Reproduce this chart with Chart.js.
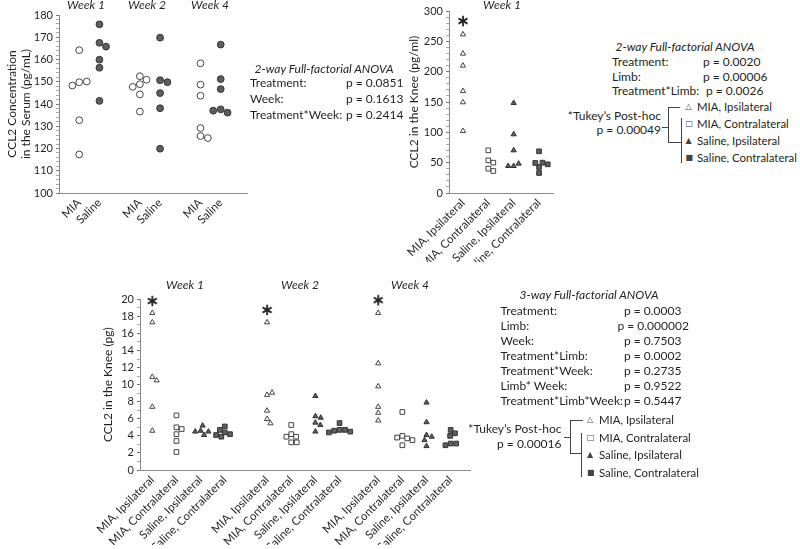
<!DOCTYPE html>
<html lang="en">
<head>
<meta charset="UTF-8" />
<title>CCL2 in serum and knee</title>
<script src="https://cdn.jsdelivr.net/npm/chart.js"></script>
<style>
  body { margin: 0; background: #fff; }
  #fig { position: relative; width: 800px; height: 549px; overflow: hidden; font-family: Lato, sans-serif; color: #231f20; }
  #fig canvas { position: absolute; }
  .t { position: absolute; white-space: nowrap; font-size: 12px; line-height: 14px; }
  .i { font-style: italic; }
  .lg { font-size: 11.4px; }
  .ln { position: absolute; background: #444; }
  .sym { font-family: 'DejaVu Sans', sans-serif; font-size: 8px; color: #444; }
</style>
</head>
<body>
<div id="fig">
  <canvas id="serum" width="260" height="262" style="left:0;top:0"></canvas>
  <canvas id="kneeW1" width="170" height="262" style="left:390px;top:0"></canvas>
  <canvas id="kneeAll" width="400" height="265" style="left:80px;top:280px"></canvas>
</div>
<script>
// ---- serum CCL2 (pg/mL), rows = week 1, 2, 4 ----
const serumWeeks = ['Week 1', 'Week 2', 'Week 4'];
const serumGroups = ['MIA', 'Saline'];
const serumMIA = [
  [149.8, 150.1, 148.3, 164.2, 132.7, 117.3],
  [152.5, 148.9, 150.9, 147.7, 144.3, 136.6],
  [158.3, 148.7, 143.7, 129.2, 125.6, 124.7]
];
const serumSaline = [
  [175.8, 167.5, 165.8, 159.9, 156.3, 141.4],
  [169.8, 150.7, 149.8, 144.9, 138.1, 119.9],
  [166.7, 151.2, 146.7, 137.6, 136.1, 137.0]
];

// ---- knee CCL2 at week 1 (pg/ml) ----
const kneeGroups = ['MIA, Ipsilateral', 'MIA, Contralateral', 'Saline, Ipsilateral', 'Saline, Contralateral'];
const kneeW1MIAIpsi = [261.5, 229.7, 209.9, 168, 149.5, 102.2];
const kneeW1MIAContra = [70.3, 53.8, 50, 40.1, 36.3];
const kneeW1SalIpsi = [148.4, 96.7, 70.3, 44.5, 48.4, 44.5];
const kneeW1SalContra = [68.7, 33, 42.9, 50, 49.5, 47.3];
const kneeW1Star = [283.5];

// ---- knee CCL2 (pg), rows = week 1, 2, 4 ----
const kneeWeeks = ['Week 1', 'Week 2', 'Week 4'];
const pgMIAIpsi = [
  [18.4, 17.3, 10.9, 10.5, 7.4, 4.6],
  [17.3, 8.8, 9.06, 6.95, 5.98, 5.47],
  [18.4, 12.5, 9.8, 7.4, 6.7, 5.8]
];
const pgMIAContra = [
  [6.4, 5.0, 4.8, 4.2, 3.4, 2.1],
  [5.27, 4.2, 3.9, 3.9, 3.24, 3.24],
  [6.8, 4.0, 3.7, 3.8, 3.5, 2.9]
];
const pgSalIpsi = [
  [4.6, 5.2, 4.1, 4.5, 4.5],
  [8.67, 6.3, 6.13, 5.55, 5.27, 4.5],
  [7.9, 5.6, 4.1, 3.9, 3.5, 2.8]
];
const pgSalContra = [
  [4.4, 5.1, 4.2, 4.7, 3.9, 4.1],
  [5.5, 4.7, 4.7, 4.6, 4.5, 4.4],
  [4.7, 4.3, 4.0, 3.1, 3.1, 2.9]
];
const pgStars = [19.8, 18.75, 19.9];

// ---- stats text ----
const serumStats = [['Treatment:', 'p = 0.0851'], ['Week:', 'p = 0.1613'], ['Treatment*Week:', 'p = 0.2414']];
const kneeW1Stats = [['Treatment:', 'p = 0.0020'], ['Limb:', 'p = 0.00006'], ['Treatment*Limb:', 'p = 0.0026']];
const kneeStats = [
  ['Treatment:', 'p = 0.0003'], ['Limb:', 'p = 0.000002'], ['Week:', 'p = 0.7503'],
  ['Treatment*Limb:', 'p = 0.0002'], ['Treatment*Week:', 'p = 0.2735'],
  ['Limb* Week:', 'p = 0.9522'], ['Treatment*Limb*Week:', 'p = 0.5447']
];
const legendSymbols = ['\u25B3', '\u25A1', '\u25B2', '\u25A0'];

const ink = '#231f20';
const axisGrey = '#8a8a8a';
Chart.defaults.font.family = 'Lato, sans-serif';
Chart.defaults.color = ink;

// beeswarm: push each point sideways just enough to clear the ones already placed
function swarm(values, cx, pxX, pxY, d) {
  const placed = [];
  values.forEach(v => {
    const y = v * pxY;
    const cands = [0];
    placed.forEach(p => {
      const dy = Math.abs(p.y - y);
      if (dy < d) {
        const dx = Math.sqrt(d * d - dy * dy);
        cands.push(p.x + dx, p.x - dx);
      }
    });
    cands.sort((a, b) => Math.abs(a) - Math.abs(b) || b - a);
    const x = cands.find(c => placed.every(p => Math.hypot(p.x - c, p.y - y) >= d - 0.01));
    placed.push({ x, y });
  });
  return values.map((v, i) => ({ x: cx + placed[i].x / pxX, y: v }));
}

// six-armed asterisk used as a point style
const star = document.createElement('canvas');
star.width = star.height = 14;
(function () {
  const c = star.getContext('2d');
  c.strokeStyle = '#222';
  c.lineWidth = 1.8;
  [90, 30, -30].forEach(a => {
    const r = a * Math.PI / 180, dx = Math.cos(r) * 5.2, dy = Math.sin(r) * 5.2;
    c.beginPath(); c.moveTo(7 - dx, 7 - dy); c.lineTo(7 + dx, 7 + dy); c.stroke();
  });
})();

const open = { bg: '#fff', line: '#444' };
const solid = { bg: '#5e5e5e', line: '#333' };

function marks(points, shape, look, r) {
  return {
    data: points, pointStyle: shape, pointRadius: r, pointHoverRadius: r, pointBorderWidth: 1,
    pointBackgroundColor: look.bg, pointBorderColor: look.line, clip: false
  };
}

function yAxis(min, max, minor, major, title, width, titlePad) {
  return {
    min, max,
    afterFit: s => { s.width = width; },
    afterBuildTicks: s => {
      const t = [];
      for (let v = min; v <= max + 1e-9; v += minor) t.push({ value: +v.toFixed(4) });
      s.ticks = t;
    },
    ticks: {
      autoSkip: false, font: { size: 11 }, padding: 3,
      callback: v => (Math.abs(v / major - Math.round(v / major)) < 1e-6 ? v : '')
    },
    grid: {
      drawOnChartArea: false, tickLength: 3,
      tickColor: c => (c.tick && Math.abs(c.tick.value / major - Math.round(c.tick.value / major)) < 1e-6 ? '#777' : '#aaa')
    },
    border: { color: axisGrey, width: 1 },
    title: { display: true, text: title, font: { size: 12 }, padding: { top: titlePad, bottom: 0 } }
  };
}

function xAxis(min, max, slots, labels, height) {
  return {
    type: 'linear', min, max,
    afterFit: s => { s.height = height; },
    afterBuildTicks: s => { s.ticks = slots.map(v => ({ value: v })); },
    ticks: { autoSkip: false, minRotation: 45, maxRotation: 45, padding: 3, font: { size: 11.5 }, callback: (v, i) => labels[i] },
    grid: { display: false, drawTicks: false },
    border: { color: axisGrey, width: 1 }
  };
}

function scatter(id, datasets, padding, x, y) {
  return new Chart(document.getElementById(id), {
    type: 'scatter',
    data: { datasets },
    options: {
      responsive: false, animation: false, events: [],
      layout: { padding },
      plugins: { legend: { display: false }, tooltip: { enabled: false } },
      scales: { x, y }
    }
  });
}

// ---- serum panel ----
const serumSlots = [1, 2, 4, 5, 7, 8];
const sA = { pxX: 188 / 9.3, pxY: 178 / 80, d: 7.6 };
const serumSets = [];
serumWeeks.forEach((w, i) => {
  serumSets.push(marks(swarm(serumMIA[i], serumSlots[2 * i], sA.pxX, sA.pxY, sA.d), 'circle', open, 3.4));
  serumSets.push(marks(swarm(serumSaline[i], serumSlots[2 * i + 1], sA.pxX, sA.pxY, sA.d), 'circle', solid, 3.4));
});
scatter('serum', serumSets, { top: 15, right: 13, left: 0, bottom: 0 },
  xAxis(0, 9.3, serumSlots, serumWeeks.flatMap(() => serumGroups), 69),
  yAxis(100, 180, 2, 10, ['CCL2 Concentration', 'in the Serum (pg/mL)'], 59, 4.8));

// ---- knee week 1 panel ----
const w1Slots = [1, 2, 3, 4];
const sB = { pxX: 104 / 4.1, pxY: 182 / 300, d: 5.5 };
scatter('kneeW1', [
  marks(swarm(kneeW1MIAIpsi, w1Slots[0], sB.pxX, sB.pxY, sB.d), 'triangle', open, 3),
  marks(swarm(kneeW1MIAContra, w1Slots[1], sB.pxX, sB.pxY, sB.d), 'rect', open, 3.3),
  marks(swarm(kneeW1SalIpsi, w1Slots[2], sB.pxX, sB.pxY, sB.d), 'triangle', solid, 3),
  marks(swarm(kneeW1SalContra, w1Slots[3], sB.pxX, sB.pxY, sB.d), 'rect', solid, 3.3),
  marks(kneeW1Star.map(v => ({ x: w1Slots[0], y: v })), star, open, 5)
], { top: 11, right: 7, left: 0, bottom: 0 },
  xAxis(0.45, 4.55, w1Slots, kneeGroups, 69),
  yAxis(0, 300, 10, 50, 'CCL2 in the Knee (pg/ml)', 59, 16.8));

// ---- knee 3-week panel ----
const weekStart = [1, 5.75, 10.35];
const sC = { pxX: 330 / 13.66, pxY: 171 / 20, d: 5.5 };
const kneeSets = [];
const kneeSlots = [];
kneeWeeks.forEach((w, i) => {
  const s = weekStart[i];
  kneeSlots.push(s, s + 1, s + 2, s + 3);
  kneeSets.push(marks(swarm(pgMIAIpsi[i], s, sC.pxX, sC.pxY, sC.d), 'triangle', open, 3));
  kneeSets.push(marks(swarm(pgMIAContra[i], s + 1, sC.pxX, sC.pxY, sC.d), 'rect', open, 3.3));
  kneeSets.push(marks(swarm(pgSalIpsi[i], s + 2, sC.pxX, sC.pxY, sC.d), 'triangle', solid, 3));
  kneeSets.push(marks(swarm(pgSalContra[i], s + 3, sC.pxX, sC.pxY, sC.d), 'rect', solid, 3.3));
});
kneeSets.push(marks(pgStars.map((v, i) => ({ x: weekStart[i], y: v })), star, open, 5));
scatter('kneeAll', kneeSets, { top: 19.3, right: 10, left: 0, bottom: 0 },
  xAxis(0.49, 14.15, kneeSlots, kneeWeeks.flatMap(() => kneeGroups), 75),
  yAxis(0, 20, 1, 2, 'CCL2 in the Knee (pg)', 60, 20.8));

// ---- text and brackets ----
const fig = document.getElementById('fig');
function put(text, x, y, align, cls) {
  const el = document.createElement('div');
  el.className = 't ' + (cls || '');
  el.textContent = text;
  el.style.top = (y - 7) + 'px';
  if (align === 'right') el.style.right = (800 - x) + 'px';
  else el.style.left = x + 'px';
  if (align === 'center') el.style.transform = 'translateX(-50%)';
  fig.appendChild(el);
}
function rule(x1, y1, x2, y2) {
  const el = document.createElement('div');
  el.className = 'ln';
  el.style.left = Math.min(x1, x2) + 'px';
  el.style.top = Math.min(y1, y2) + 'px';
  el.style.width = Math.max(1, Math.abs(x2 - x1)) + 'px';
  el.style.height = Math.max(1, Math.abs(y2 - y1)) + 'px';
  fig.appendChild(el);
}

[86, 147, 210].forEach((x, i) => put(serumWeeks[i], x, 5, 'center', 'i'));
put(kneeWeeks[0], 502, 5, 'center', 'i');
[185, 300, 410].forEach((x, i) => put(kneeWeeks[i], x, 285, 'center', 'i'));

put('2-way Full-factorial ANOVA', 324, 69, 'center', 'i');
serumStats.forEach((r, i) => { put(r[0], 250, 83 + i * 16, 'left'); put(r[1], 346, 83 + i * 16, 'left'); });

put('2-way Full-factorial ANOVA', 685, 47, 'center', 'i');
kneeW1Stats.forEach((r, i) => { put(r[0], 612, 62 + i * 14.7, 'left'); put(r[1], i === 2 ? 706 : 703, 62 + i * 14.7, 'left'); });
put('*Tukey\u2019s Post-hoc', 661, 116, 'right');
put('p = 0.00049', 661, 130, 'right');
rule(668, 107, 680, 107); rule(668, 107, 668, 142); rule(662, 127, 668, 127);
rule(668, 142, 681, 142); rule(681, 118, 681, 163);
[107, 124, 141, 158].forEach((y, i) => {
  put(legendSymbols[i], 685.5, y, 'left', 'sym');
  put(kneeGroups[i], 697, y, 'left', 'lg');
});

put('3-way Full-factorial ANOVA', 589, 295, 'center', 'i');
kneeStats.forEach((r, i) => {
  const y = 310.7 + i * 15;
  put(r[0], 500.5, y, 'left');
  put(r[1], i === 1 ? 617.5 : 624, y, 'left');
});
put('*Tukey\u2019s Post-hoc', 561.5, 429, 'right');
put('p = 0.00016', 561.5, 444, 'right');
rule(570, 420, 583, 420); rule(570, 420, 570, 453); rule(564, 437, 570, 437);
rule(570, 453, 581, 453); rule(581, 433, 581, 477);
[420, 437.7, 455, 473.3].forEach((y, i) => {
  put(legendSymbols[i], 587, y, 'left', 'sym');
  put(kneeGroups[i], 599, y, 'left', 'lg');
});
</script>
</body>
</html>
